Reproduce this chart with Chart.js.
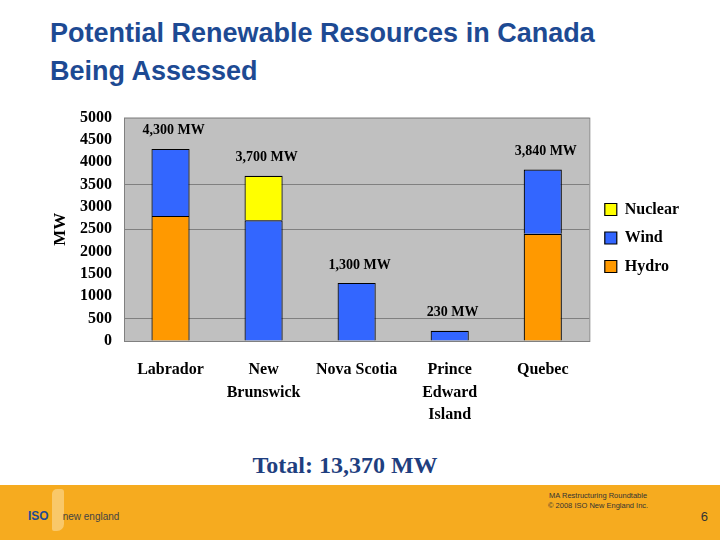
<!DOCTYPE html>
<html>
<head>
<meta charset="utf-8">
<script src="https://cdn.jsdelivr.net/npm/chart.js@4.4.1/dist/chart.umd.min.js"></script>
<style>
  body { margin: 0; width: 720px; height: 540px; background: #fff; position: relative; overflow: hidden; }
  .title { position: absolute; left: 50px; top: 14px; font: bold 27px "Liberation Sans", Arial, sans-serif; color: #1d4a93; line-height: 38px; }
  #wrap { position: absolute; left: 0; top: 96px; width: 720px; height: 334px; }
  .total { position: absolute; left: 0; width: 690px; top: 452px; text-align: center; font: bold 24px "Liberation Serif", "Times New Roman", serif; color: #1f3f80; }
  .footer { position: absolute; left: 0; top: 485px; width: 720px; height: 55px; background: #f6ab1f; }
  .map { position: absolute; left: 52px; top: 4px; width: 12px; height: 42px; background: #f9c869; border-radius: 5px 3px 7px 2px; }
  .logo { position: absolute; left: 28px; top: 24px; font: bold 12px "Liberation Sans", Arial, sans-serif; color: #1d4a93; }
  .logo span { font-weight: normal; color: #444; font-size: 10px; margin-left: 14px; }
  .note { position: absolute; left: 548px; top: 6px; font: 7.5px "Liberation Sans", Arial, sans-serif; color: #333; text-align: center; line-height: 10px; }
  .page { position: absolute; right: 12px; top: 24px; font: 13px "Liberation Sans", Arial, sans-serif; color: #333; }
</style>
</head>
<body>
<div class="title">Potential Renewable Resources in Canada<br>Being Assessed</div>
<div id="wrap"><canvas id="c"></canvas></div>
<div class="total">Total: 13,370 MW</div>
<div class="footer">
  <div class="map"></div>
  <div class="logo">ISO<span>new england</span></div>
  <div class="note">MA Restructuring Roundtable<br>© 2008 ISO New England Inc.</div>
  <div class="page">6</div>
</div>
<script>
const provinces = [['Labrador'], ['New', 'Brunswick'], ['Nova Scotia'], ['Prince', 'Edward', 'Island'], ['Quebec']];
const hydro = [2800, 0, 0, 0, 2400];
const wind = [1500, 2700, 1300, 230, 1440];
const nuclear = [0, 1000, 0, 0, 0];
const yTicks = [0, 500, 1000, 1500, 2000, 2500, 3000, 3500, 4000, 4500, 5000];
const gridAt = [500, 2500, 3500];

const serif = '"Liberation Serif", "Times New Roman", serif';

const totalLabels = {
  id: 'totalLabels',
  afterDatasetsDraw(chart) {
    const ctx = chart.ctx;
    const y = chart.scales.y;
    ctx.save();
    ctx.font = 'bold 14px ' + serif;
    ctx.fillStyle = '#000';
    ctx.textAlign = 'center';
    ctx.textBaseline = 'middle';
    const meta = chart.getDatasetMeta(0);
    provinces.forEach((p, i) => {
      const total = hydro[i] + wind[i] + nuclear[i];
      ctx.fillText(total.toLocaleString('en-US') + ' MW', meta.data[i].x + 3, y.getPixelForValue(total) - 18);
    });
    ctx.restore();
  }
};

const plotBg = {
  id: 'plotBg',
  afterLayout(chart) {
    // lift the legend so it sits beside the plot rather than the whole canvas
    if (chart.legend) { chart.legend.top -= 28; chart.legend.bottom -= 28; chart.legend.left += 3; chart.legend.right += 3; }
  },
  beforeDraw(chart) {
    const a = chart.chartArea;
    const ctx = chart.ctx;
    ctx.save();
    ctx.fillStyle = '#c0c0c0';
    ctx.fillRect(a.left, a.top, a.right - a.left, a.bottom - a.top);
    ctx.strokeStyle = '#808080';
    ctx.lineWidth = 1;
    ctx.strokeRect(a.left + 0.5, a.top + 0.5, a.right - a.left, a.bottom - a.top);
    ctx.restore();
  }
};

new Chart(document.getElementById('c'), {
  type: 'bar',
  data: {
    labels: provinces,
    datasets: [
      { label: 'Hydro', data: hydro, backgroundColor: '#ff9900', borderColor: '#000', borderWidth: 1.2 },
      { label: 'Wind', data: wind, backgroundColor: '#3366ff', borderColor: '#000', borderWidth: 1.2 },
      { label: 'Nuclear', data: nuclear, backgroundColor: '#ffff00', borderColor: '#000', borderWidth: 1.2 }
    ]
  },
  options: {
    responsive: true,
    maintainAspectRatio: false,
    animation: false,
    barPercentage: 0.41,
    categoryPercentage: 1,
    layout: { padding: { left: 50, top: 6, right: 34, bottom: 0 } },
    plugins: {
      legend: {
        position: 'right',
        reverse: true,
        labels: {
          boxWidth: 12, boxHeight: 12, padding: 12.5, color: '#000',
          font: { family: serif, size: 16, weight: 'bold' }
        }
      },
      tooltip: { enabled: false }
    },
    scales: {
      x: {
        stacked: true,
        grid: { display: false },
        border: { color: '#808080' },
        ticks: { color: '#000', padding: 10, font: { family: serif, size: 16, weight: 'bold', lineHeight: 1.4 } },
        afterFit(s) { s.height = 89; }
      },
      y: {
        stacked: true,
        min: 0, max: 5000,
        afterBuildTicks(s) { s.ticks = yTicks.map(v => ({ value: v })); },
        grid: {
          drawTicks: false,
          color: c => gridAt.includes(c.tick.value) ? '#808080' : 'rgba(0,0,0,0)'
        },
        border: { display: false },
        ticks: {
          autoSkip: false, color: '#000', padding: 12,
          font: { family: serif, size: 16, weight: 'bold' },
          callback: v => String(v)
        },
        title: { display: true, text: 'MW', color: '#000', padding: 0, font: { family: serif, size: 17, weight: 'bold' } },
        afterFit(s) { s.width = 74; }
      }
    }
  },
  plugins: [plotBg, totalLabels]
});
</script>
</body>
</html>
